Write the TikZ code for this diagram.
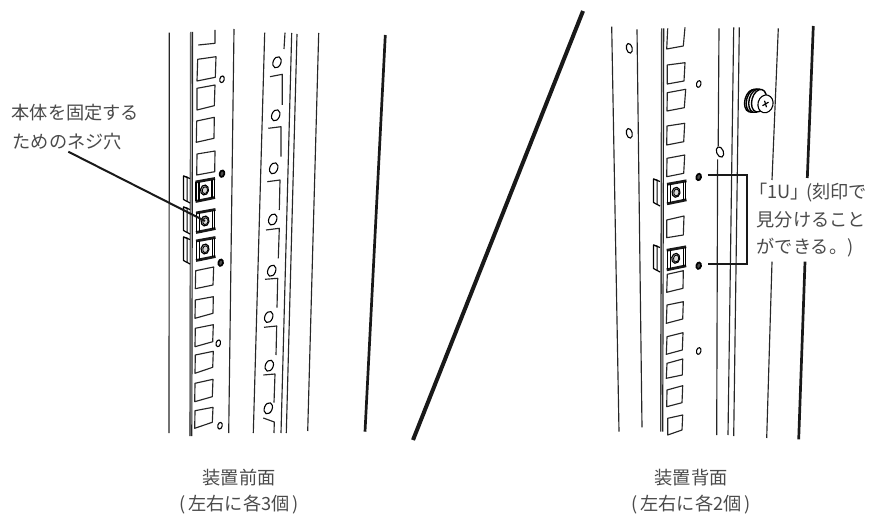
\documentclass[tikz,border=0pt]{standalone}
\usepackage{fontspec}
\setmainfont{Noto Sans CJK JP}
\definecolor{txt}{HTML}{4A4A4A}
\tikzset{
  rail/.style={line width=1.15pt,color=black!85},
  heavy/.style={line width=2.7pt,color=black!90},
  slot/.style={line width=1.15pt,color=black!85,line join=round},
  leader/.style={line width=2pt,color=black!90},
  lbl/.style={text=txt,font=\fontsize{18.2pt}{20pt}\selectfont,inner sep=0pt,anchor=center},
  openhole/.style={line width=1.1pt,draw=black},
  darkhole/.style={line width=1.7pt,draw=black},
}
\newcommand{\sq}[8]{\draw[slot] (#1,#2) -- (#3,#4) -- (#5,#6) -- (#7,#8) -- cycle;}
\newcommand{\hol}[2]{\draw[openhole] (#1,#2) ellipse[x radius=2.2,y radius=3.4,rotate=-14];}
\newcommand{\strip}[2]{\draw[openhole] (#1,#2) ellipse[x radius=3.9,y radius=5.8,rotate=-22];}
\newcommand{\midhol}[2]{\draw[openhole] (#1,#2) ellipse[x radius=2.9,y radius=4.9,rotate=14];}
\newcommand{\bighol}[2]{\draw[openhole] (#1,#2) ellipse[x radius=3.4,y radius=5.4,rotate=22];}
\newcommand{\drk}[2]{\draw[darkhole,fill=black!70] (#1,#2) ellipse[x radius=2.3,y radius=3.3,rotate=-14];}
\newcommand{\elb}[6]{\draw[slot] (#1,#2) -- (#3,#4) -- (#5,#6);}
\newcommand{\clipbox}[2]{\begin{scope}[shift={(#1,#2)}]
  \draw[line width=2.8pt,color=black!90] (-9,-8) -- (10.5,-11.5);
  \draw[line width=2.8pt,color=black!90] (-9,11.5) -- (10.5,7.5);
  \draw[line width=1.3pt] (-8.5,-8) -- (-8.5,11);
  \draw[line width=1.3pt] (-5.5,-8.5) -- (-5.5,10.5);
  \draw[line width=1.3pt] (7.5,-10.5) -- (7.5,8);
  \draw[line width=1.3pt] (9.8,-11) -- (9.8,7.5);
  \draw[line width=1.1pt,fill=black!35] (0,0) ellipse[x radius=4,y radius=5,rotate=-10];
  \draw[line width=0.8pt,fill=black!15] (0.4,0.2) ellipse[x radius=2.6,y radius=3.4,rotate=-10];
\end{scope}}
\newcommand{\tab}[2]{\draw[line width=1.2pt,line join=round] (#1+6.5,#2-11.5) -- (#1,#2-14) -- (#1,#2+9.5) -- (#1+6.5,#2+13); \draw[line width=1pt] (#1,#2-14)--(#1+3.5,#2-13)--(#1+3.5,#2+11);}
\begin{document}
\begin{tikzpicture}[x=1pt,y=-1pt]
\useasboundingbox (0,0) rectangle (870,516);
% ---------- front rails
\draw[rail] (169.3,32.7) -- (169,433);
\draw[line width=1.6pt,color=black!60] (190.8,32) -- (190,436);
\draw[rail] (192.6,32) -- (191.8,436);
\draw[rail] (234,29) -- (228.7,433);
\draw[rail] (264.7,32.7) -- (253.3,433);
\draw[rail] (285,32.7) -- (284,49);
\draw[rail] (291.7,33) -- (281,433);
\draw[rail] (297,34) -- (286.3,433);
\draw[rail] (318.7,33) -- (307.7,431);
\draw[heavy] (385.3,35) -- (365,431.7);
% front slots
\draw[slot] (198.3,45) -- (215,43.3) -- (215,30);
\sq{197.7}{59.3}{216}{56.7}{215.3}{77.3}{197}{81}
\sq{197}{88.3}{215}{85}{214.3}{105.7}{197}{110}
\sq{196.7}{121}{214.3}{117.3}{214}{138.3}{196.3}{142.3}
\sq{197}{154}{215}{151}{214.7}{171.7}{196.7}{175}
\sq{195.7}{270.7}{213.7}{267}{213}{285}{195.3}{288.7}
\sq{195.3}{300}{213.3}{296.7}{213}{313.3}{195}{318.3}
\sq{195.3}{328.3}{213.3}{324.7}{212.7}{341.7}{195}{346.7}
\sq{195.3}{355}{213.3}{351.3}{212.7}{367.3}{195}{373.3}
\sq{195}{383.3}{213}{379.3}{212.3}{396.7}{194.7}{401.7}
\sq{195}{410.7}{213}{407.3}{212.3}{422.3}{194.7}{428.3}
% front tabs and clips
\tab{183.5}{190}\tab{183.5}{221}\tab{183.5}{251}
\clipbox{204.5}{190}
\clipbox{205}{221}
\clipbox{205}{249}
% front small holes
\hol{222}{79.3}\drk{222}{173.7}\drk{220.7}{262.7}\hol{218.3}{343.3}\hol{220}{425.7}
% front strip
\strip{277}{62.3}\strip{275.7}{115.3}\strip{273.7}{168.3}\strip{272.7}{219.5}\strip{271.7}{270.7}\strip{268.7}{317}\strip{269.3}{365.7}\strip{268.3}{408.3}
\elb{270}{76.7}{282.3}{74.3}{282.3}{105}
\elb{268.3}{128.3}{281}{126.7}{281}{156.7}
\elb{267.3}{181.7}{280}{180}{279.3}{210}
\elb{266}{230}{279.3}{228.3}{278.3}{258.3}
\elb{265}{279.3}{277.7}{278.3}{277}{307.7}
\elb{264}{327.3}{276.7}{326}{276}{355}
\elb{263.3}{375}{275}{374}{274}{402.7}
\elb{263.3}{418}{274.3}{422}{274}{433}
% diagonal divider
\draw[line width=4pt,color=black!90] (583,11) -- (413,440);
% ---------- rear rails
\draw[rail] (611.7,26.7) -- (619,431.7);
\draw[rail] (637,29.3) -- (642,427.3);
\draw[line width=1.4pt,color=black!75] (661.7,28.3) -- (660.7,431.7);
\draw[rail] (663.7,28.3) -- (662.7,431.7);
\draw[rail] (719,28.3) -- (718.2,146);
\draw[rail] (717.6,159.3) -- (716.7,435);
\draw[rail] (733.7,27.3) -- (728,435);
\draw[rail] (739.3,27.3) -- (733.7,436);
\draw[rail] (778.3,28.3) -- (772,180);
\draw[rail] (772,261.7) -- (766.7,438);
\draw[heavy] (813.3,26) -- (807.3,178);
\draw[heavy] (805,261.7) -- (798.7,439.3);
% rear slots
\draw[slot] (667.7,28.3) -- (666.7,49) -- (683.3,46) -- (685,27.3);
\sq{667.3}{65}{685}{62.7}{684}{81}{667.3}{84}
\sq{667.3}{92.7}{685.7}{89.3}{684.3}{107.7}{667}{111}
\sq{667}{126}{684.7}{123.3}{683.7}{141.7}{666.7}{145}
\sq{667}{158.3}{684.7}{155}{683.7}{173.3}{666.7}{176.7}
\sq{666.7}{220}{684}{216}{683.3}{235}{666.7}{237.7}
\sq{667.3}{274.3}{683.3}{270.7}{683}{288.3}{666.7}{292.3}
\sq{667}{305}{683.3}{301.7}{682.7}{319}{666.3}{323.3}
\sq{667}{336.7}{683}{332.7}{682.3}{350}{666.3}{354.3}
\sq{667}{363.3}{682.7}{359}{682.3}{375}{666.3}{378.3}
\sq{667}{390}{682.7}{385.7}{682}{402.7}{666.7}{406.7}
\sq{667.7}{418.3}{682.7}{415}{682}{430}{667.7}{435}
% rear tabs and clips
\tab{653.5}{193}\tab{653.5}{259}
\clipbox{676}{192.3}
\clipbox{675.7}{258.3}
% rear holes
\midhol{629.3}{48.3}\midhol{629.3}{133.3}\hol{698.7}{84}\bighol{720}{152}\hol{698.7}{351}
\drk{698.7}{177}\drk{698.7}{265.7}
% screw
\begin{scope}[shift={(759,101.7)}]
  \foreach \dx/\r in {-7/11.5,-5/12,-2.5/12,0/11.5} {
    \draw[line width=1.4pt,fill=white] (\dx,-1) ellipse[x radius=\r*0.62,y radius=\r,rotate=-15];
  }
  \draw[line width=1.1pt,fill=white] (6.5,2.2) ellipse[x radius=7.5,y radius=9,rotate=-15];
  \draw[line width=1.2pt] (3.5,4) -- (9.5,0.5);
  \draw[line width=1.2pt] (5.5,-1) -- (7.5,5.5);
\end{scope}
% ---------- labels
\node[lbl,anchor=west] (fixlabel1) at (11.5,113) {本体を固定する};
\node[lbl,anchor=west] (fixlabel2) at (12.5,142) {ためのネジ穴};
\node[lbl,anchor=west] (ulabel1) at (749,193) {「1U」\kern-2.5pt(刻印で};
\node[lbl,anchor=west] (ulabel2) at (756.5,220) {見分けること};
\node[lbl,anchor=west] (ulabel3) at (756.5,248) {ができる。)};
\node[lbl] (frontcap1) at (239,478) {装置前面};
\node[lbl] (frontcap2) at (239,505) {(\kern2.5pt左右に各3個\kern2.5pt)};
\node[lbl] (rearcap1) at (691,478) {装置背面};
\node[lbl] (rearcap2) at (691,505) {(\kern2.5pt左右に各2個\kern2.5pt)};
% ---------- leaders
\coordinate (leadstart) at (68.3,151.7);
\coordinate (leadend) at (205,221);
\draw[leader] (leadstart) -- (leadend);
\coordinate (brA) at (707.7,175);
\coordinate (brB) at (747,175);
\coordinate (brC) at (747,264);
\coordinate (brD) at (707.7,264);
\draw[leader] (brA) -- (brB) -- (brC) -- (brD);
\end{tikzpicture}
\end{document}
